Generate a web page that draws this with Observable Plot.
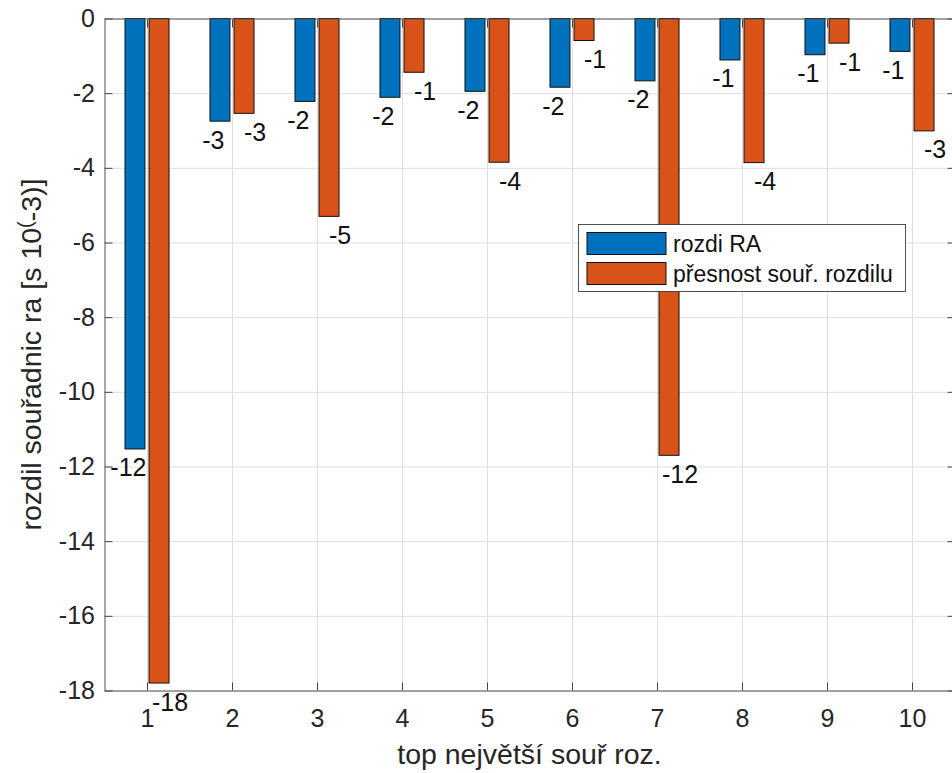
<!DOCTYPE html>
<html><head><meta charset="utf-8">
<script src="https://cdn.jsdelivr.net/npm/d3@7"></script>
<script src="https://cdn.jsdelivr.net/npm/@observablehq/plot@0.6"></script>
<style>
html,body{margin:0;padding:0;background:#fff;overflow:hidden;}
#chart svg{display:block;}
</style></head><body><div id="chart"></div>
<script>
const categories = [1, 2, 3, 4, 5, 6, 7, 8, 9, 10];
const rozdiRA = [-11.53, -2.75, -2.22, -2.11, -1.95, -1.84, -1.67, -1.11, -0.97, -0.88];
const presnost = [-17.8, -2.54, -5.30, -1.44, -3.85, -0.59, -11.7, -3.86, -0.66, -3.01];
const seriesNames = ["rozdi RA", "přesnost souř. rozdilu"];
const seriesColors = ["#0072BD", "#D95319"];
const yTicks = [-18, -16, -14, -12, -10, -8, -6, -4, -2, 0];
const xLabel = "top největší souř roz.";
const yLabelMain = "rozdil souřadnic ra [s 10";
const yLabelSup = "(";
const yLabelEnd = "-3)]";

const barW = 0.235, gap = 0.024;
const rows = [];
categories.forEach((c, i) => {
  rows.push({cat: c, s: 0, v: rozdiRA[i]});
  rows.push({cat: c, s: 1, v: presnost[i]});
});
const roundAway = v => Math.sign(v) * Math.round(Math.abs(v));
const font = "'Liberation Sans', Arial, Helvetica, sans-serif";

const plot = Plot.plot({
  width: 952, height: 773,
  marginLeft: 104.5, marginRight: -2.5, marginTop: 18.5, marginBottom: 82.5,
  style: {fontFamily: font, fontSize: "25px", color: "#262626", background: "white"},
  x: {domain: [0.5, 10.5], label: null},
  y: {domain: [-18, 0], label: null},
  marks: [
    Plot.gridX(categories, {stroke: "#dfdfdf", strokeOpacity: 1}),
    Plot.gridY(yTicks, {stroke: "#dfdfdf", strokeOpacity: 1}),
    Plot.axisX(categories, {tickSize: 0, tickPadding: 18.5, tickFormat: d => String(d), fontSize: 25, fill: "#262626", label: null}),
    Plot.axisX(categories, {tickSize: -8, tickFormat: () => "", stroke: "#444", label: null}),
    Plot.axisX(categories, {anchor: "top", tickSize: -8, tickFormat: () => "", stroke: "#444", label: null}),
    Plot.axisY(yTicks, {tickSize: 0, tickPadding: 10, tickFormat: d => String(d), fontSize: 25, fill: "#262626", label: null}),
    Plot.axisY(yTicks, {tickSize: -8, tickFormat: () => "", stroke: "#444", label: null}),
    Plot.axisY(yTicks, {anchor: "right", tickSize: -8, tickFormat: () => "", stroke: "#444", label: null}),
    Plot.rect(rows, {
      x1: d => d.s === 0 ? d.cat - gap - barW : d.cat + gap,
      x2: d => d.s === 0 ? d.cat - gap : d.cat + gap + barW,
      y1: 0, y2: d => d.v,
      fill: d => seriesColors[d.s], stroke: "#111", strokeWidth: 1
    }),
    Plot.frame({stroke: "#555", strokeWidth: 1}),
    Plot.text(rows, {
      x: d => d.cat + (d.s === 0 ? -0.225 : 0.265),
      y: d => d.v,
      text: d => String(roundAway(d.v)),
      dy: 19, fontSize: 25, fill: "#111", textAnchor: "middle"
    })
  ]
});
document.getElementById("chart").appendChild(plot);

const svg = d3.select(plot);
const xr = plot.scale("x").range, yr = plot.scale("y").range;
// x axis label
svg.append("text")
  .attr("x", (xr[0] + xr[1]) / 2).attr("y", 764)
  .attr("text-anchor", "middle")
  .style("font-family", font).style("font-size", "28.5px")
  .attr("fill", "#262626").text(xLabel);
// y axis label
const yl = svg.append("text")
  .attr("transform", `translate(41,${(yr[0] + yr[1]) / 2}) rotate(-90)`)
  .attr("text-anchor", "middle")
  .style("font-family", font).style("font-size", "28.5px")
  .attr("fill", "#262626");
yl.append("tspan").text(yLabelMain);
yl.append("tspan").attr("dy", -9).style("font-size", "20px").text(yLabelSup);
yl.append("tspan").attr("dy", 9).text(yLabelEnd);

// legend
const lg = svg.append("g").attr("transform", "translate(578.5,224.5)");
lg.append("rect").attr("width", 327).attr("height", 67).attr("fill", "white").attr("stroke", "#262626").attr("stroke-width", 0.8);
seriesNames.forEach((name, i) => {
  lg.append("rect").attr("x", 8.5).attr("y", 8 + i * 30).attr("width", 79).attr("height", 22)
    .attr("fill", seriesColors[i]).attr("stroke", "#111").attr("stroke-width", 1);
  lg.append("text").attr("x", 94.5).attr("y", 27.5 + i * 30).attr("text-anchor", "start")
    .style("font-family", font).style("font-size", "23px").attr("fill", "#111").text(name);
});
</script></body></html>
